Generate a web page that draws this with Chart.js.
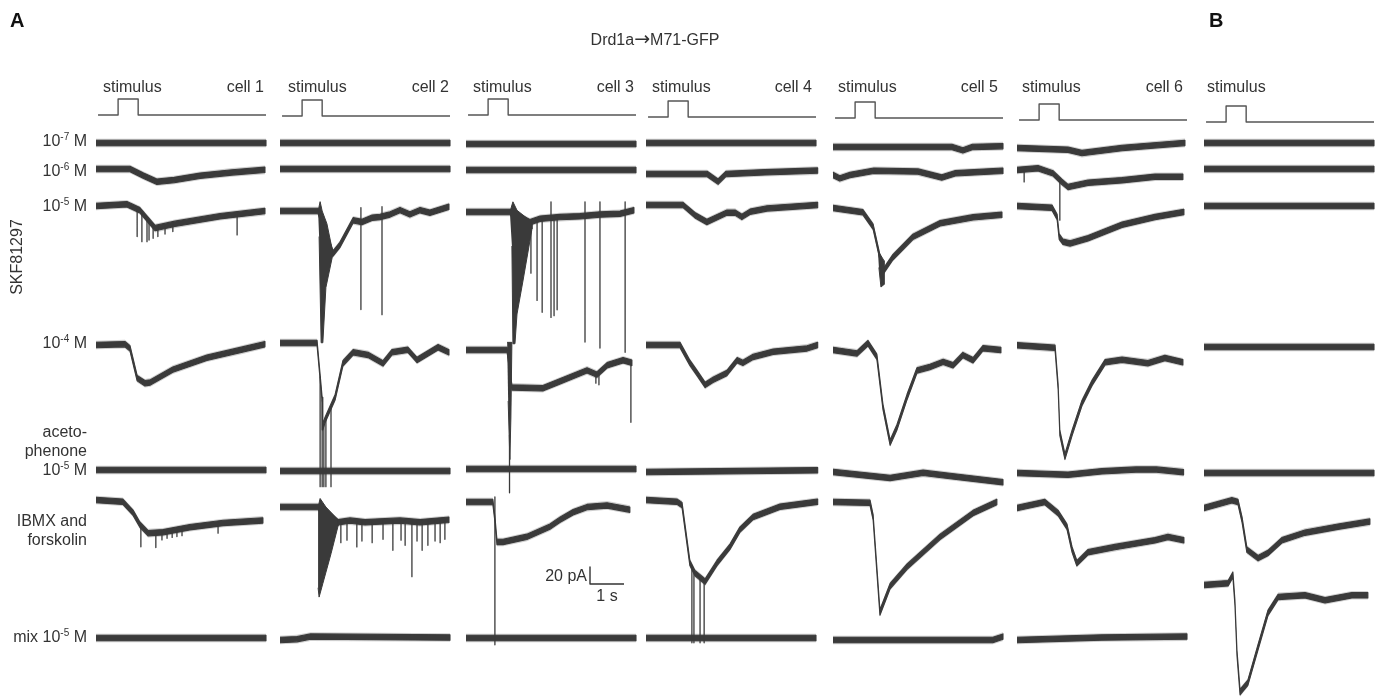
<!DOCTYPE html>
<html>
<head>
<meta charset="utf-8">
<script src="https://cdn.jsdelivr.net/npm/chart.js"></script>
<style>
  body { margin: 0; background: #fff; }
  #wrap { position: relative; width: 1384px; height: 697px; overflow: hidden; }
  #traces { position: absolute; left: 0; top: 0; }
  .lbl { position: absolute; font-family: "Liberation Sans", Arial, sans-serif; font-size: 16px;
         color: #333; white-space: nowrap; line-height: 16px; }
  .lbl sup { font-size: 10px; vertical-align: 6px; line-height: 0; }
  .arrow { font-family: "DejaVu Sans", sans-serif; font-size: 19px; line-height: 0; }
  .panel { font-weight: bold; font-size: 20px; line-height: 20px; color: #111; }
</style>
</head>
<body>
<div id="wrap"><canvas id="traces" width="1384" height="697"></canvas></div>
<script>
// Записи: время (с) от начала развертки, ток (пА) относительно начала записи
const stimulus = [[0.06, 0], [0.65, 0], [0.65, 1], [1.24, 1], [1.24, 0], [5.0, 0]];
const flat = [[0, 0], [5, 0]];

// клетка 1
const c1_r6 = [[0, 0], [1.0, 0], [1.4, -8], [1.79, -15], [2.3, -13], [3.06, -8], [4.0, -4], [4.97, -1]];
const c1_r5 = [[0, 0], [0.91, 2], [1.29, -5], [1.74, -26], [2.32, -21], [3.65, -12], [4.97, -6]];
const c1_r5_spikes = [[1.21, -3, -36], [1.35, -8, -42], [1.5, -15, -42], [1.56, -18, -40], [1.68, -23, -38],
                      [1.82, -25, -36], [2.03, -24, -33], [2.26, -21, -30], [4.15, -9, -34]];
const c1_r4 = [[0, 0], [0.85, 1], [1.0, -4], [1.21, -39], [1.44, -45], [1.6, -44], [2.26, -29], [3.26, -15], [4.24, -6], [4.97, 1]];
const c1_ibmx = [[0, 0], [0.79, -2], [1.09, -15], [1.29, -29], [1.53, -39], [1.97, -38], [2.76, -32], [3.74, -27], [4.91, -24]];
const c1_ibmx_spikes = [[1.32, -30, -55], [1.76, -39, -56], [1.94, -38, -47], [2.09, -37, -45], [2.24, -35, -44],
                        [2.38, -34, -43], [2.53, -33, -42], [3.59, -28, -39]];

// клетка 2
const c2_r5 = [[0, 0], [1.12, 0], [1.56, -50], [1.76, -40], [2.15, -11], [2.41, -13], [2.71, -8], [2.94, -7],
               [3.24, -4], [3.53, 1], [3.82, -4], [4.12, 1], [4.41, -2], [4.97, 5]];
const c2_r5_burst = [[1.12, 0], [1.18, 11], [1.24, 0], [1.38, -15], [1.56, -50], [1.35, -90], [1.26, -155], [1.21, -155], [1.15, -30]];
const c2_r5_spikes = [[2.38, 4, -116], [3.0, 5, -122]];
const c2_r4 = [[0, 0], [1.09, 0], [1.18, -40], [1.24, -67], [1.26, -99], [1.32, -91], [1.62, -64], [1.85, -24], [2.15, -11],
               [2.59, -14], [3.03, -24], [3.29, -11], [3.76, -8], [4.03, -20], [4.65, -5], [4.97, -11]];
const c2_r4_spikes = [[1.18, -40, -169], [1.24, -67, -169], [1.29, -95, -169], [1.35, -88, -169], [1.5, -75, -169]];
const c2_ibmx = [[0, 0], [1.12, 0], [1.71, -18], [2.06, -16], [2.5, -18], [2.94, -17], [3.53, -16], [4.12, -18], [4.97, -15]];
const c2_ibmx_burst = [[1.12, 0], [1.18, 10], [1.35, 0], [1.71, -15], [1.71, -22], [1.5, -55], [1.26, -90], [1.15, -106], [1.12, -95]];
const c2_ibmx_spikes = [[1.79, -18, -42], [1.97, -17, -39], [2.26, -17, -47], [2.41, -17, -40], [2.71, -17, -42], [3.03, -17, -38],
                        [3.32, -16, -51], [3.56, -16, -39], [3.68, -17, -45], [3.88, -17, -82], [4.03, -18, -40], [4.18, -17, -51],
                        [4.35, -17, -45], [4.56, -16, -40], [4.71, -16, -42], [4.85, -15, -38]];
const c2_mix = [[0, 0], [0.5, 1], [0.9, 4], [5, 3]];

// клетка 3
const c3_r5 = [[0, 0], [1.29, 0], [1.88, -12], [2.18, -8], [2.76, -6], [3.35, -5], [3.94, -3], [4.53, -2], [4.94, 2]];
const c3_r5_burst = [[1.29, 0], [1.38, 12], [1.5, 2], [1.94, -12], [1.94, -20], [1.68, -80], [1.5, -120], [1.44, -155], [1.38, -155], [1.35, -40]];
const c3_r5_spikes = [[1.91, -10, -72], [2.09, -9, -104], [2.24, -8, -118], [2.5, 12, -124], [2.59, -6, -122], [2.68, -6, -115],
                      [3.5, 12, -153], [3.94, 12, -160], [4.68, 12, -165]];
const c3_r4 = [[0, 0], [1.21, 0], [1.35, -44], [2.26, -45], [2.7, -38], [3.56, -24], [3.85, -29], [4.15, -18], [4.62, -12], [4.88, -15]];
const c3_r4_burst = [[1.21, 9], [1.35, 9], [1.32, -80], [1.29, -129], [1.24, -60]];
const c3_r4_spikes = [[1.28, -100, -168], [3.82, -28, -39], [3.91, -28, -41], [4.85, -15, -85]];
const c3_ibmx = [[0, 0], [0.79, 0], [0.85, -20], [0.91, -47], [1.09, -47], [1.79, -41], [2.47, -29], [2.76, -21],
                 [3.15, -12], [3.56, -6], [4.15, -4], [4.82, -9]];
const c3_ibmx_spikes = [[0.85, 6, -168]];

// клетка 4
const c4_r6 = [[0, 0], [1.8, 0], [2.12, -9], [2.35, 0], [3.5, 2], [5.05, 4]];
const c4_r5 = [[0, 0], [1.09, 0], [1.44, -12], [1.79, -20], [2.38, -9], [2.62, -9], [2.82, -14], [3.06, -8], [3.56, -4], [5.05, 0]];
const c4_r4 = [[0, 0], [1.0, 0], [1.29, -21], [1.5, -33], [1.74, -47], [1.97, -41], [2.38, -33], [2.68, -18], [2.85, -21],
               [3.15, -14], [3.74, -8], [4.74, -4], [5.05, 0]];
const c4_aceto = [[0, 0], [5.05, 2]];
const c4_ibmx = [[0, 0], [0.91, -2], [1.06, -6], [1.29, -74], [1.44, -86], [1.74, -96], [2.09, -74], [2.47, -55], [2.76, -35],
                 [3.15, -20], [3.94, -8], [5.05, -2]];
const c4_ibmx_spikes = [[1.35, -78, -168], [1.41, -84, -168], [1.59, -92, -168], [1.71, -95, -168]];

// клетка 5
const c5_r7 = [[0, 0], [3.5, 0], [3.82, -4], [4.1, 0], [5, 1]];
const c5_r6 = [[0, 0], [0.2, -4], [0.5, 0], [1.2, 5], [2.5, 4], [3.2, -3], [3.6, 2], [5, 5]];
const c5_r5 = [[0, 0], [0.88, -5], [1.18, -22], [1.38, -58], [1.47, -75], [1.76, -58], [2.35, -34], [3.15, -18], [4.12, -11], [4.97, -8]];
const c5_r5_burst = [[1.32, -50], [1.5, -62], [1.5, -90], [1.41, -93], [1.35, -70]];
const c5_r4 = [[0, 0], [0.71, -4], [1.03, 8], [1.29, -8], [1.47, -67], [1.68, -109], [1.88, -91], [2.18, -55], [2.47, -24],
               [2.85, -20], [3.24, -14], [3.53, -18], [3.82, -6], [4.12, -12], [4.41, 2], [4.94, 0]];
const c5_aceto = [[0, 0], [1.68, -7], [2.65, -1], [3.5, -5], [5, -12]];
const c5_ibmx = [[0, 0], [1.09, -1], [1.18, -18], [1.38, -130], [1.68, -99], [2.18, -76], [3.15, -41], [4.12, -13], [4.82, 0]];
const c5_mix = [[0, 0], [4.7, 0], [5, 4]];

// клетка 6
const c6_r7 = [[0, 0], [1.5, -2], [1.91, -6], [3.09, 0], [4.94, 6]];
const c6_r6 = [[0, 0], [0.62, 2], [1.06, -4], [1.32, -14], [1.5, -20], [2.09, -15], [3.09, -12], [4.06, -8], [4.88, -8]];
const c6_r6_spikes = [[0.21, 0, -14], [1.26, -9, -59]];
const c6_r5 = [[0, 0], [1.03, -2], [1.18, -13], [1.24, -36], [1.35, -42], [1.56, -44], [2.09, -38], [3.09, -22], [4.06, -13], [4.91, -7]];
const c6_r4 = [[0, 2], [1.12, -1], [1.21, -47], [1.26, -101], [1.41, -129], [1.62, -101], [1.91, -66], [2.21, -42], [2.59, -18],
               [3.09, -15], [3.85, -19], [4.35, -13], [4.88, -18]];
const c6_aceto = [[0, 0], [1.5, -2], [2.5, 2], [3.5, 4], [4.1, 4], [4.9, 1]];
const c6_ibmx = [[0, 0], [0.82, 7], [1.21, -6], [1.47, -22], [1.62, -49], [1.76, -65], [2.09, -52], [2.88, -46], [4.06, -38], [4.44, -34], [4.91, -38]];
const c6_mix = [[0, 0], [2.5, 3], [5, 4]];

// панель B
const b_ibmx = [[0, 0], [0.82, 9], [1.0, 7], [1.12, -14], [1.26, -49], [1.59, -59], [1.88, -53], [2.29, -38], [2.97, -29], [3.94, -22], [4.88, -16]];
const b_last = [[0, 0], [0.71, 2], [0.85, 12], [0.91, -21], [0.97, -80], [1.06, -126], [1.29, -115], [1.59, -73], [1.88, -33],
                [2.18, -14], [2.97, -12], [3.56, -18], [4.35, -12], [4.82, -12]];

// подписи
const cellNames = ["cell 1", "cell 2", "cell 3", "cell 4", "cell 5", "cell 6", ""];
const concExponents = ["-7", "-6", "-5", "-4"];
const scaleBar = { pA: 20, s: 1 };

// Раскладка (пиксели)
const W = 1384, H = 697;
const PX_PER_S = 34;     // 1 s
const PX_PER_PA = 0.85;  // 20 pA = 17 px
const colX = [96, 280, 466, 646, 833, 1017, 1204];
const rowY = [
    [143, 169, 206, 345, 470, 500, 638],
    [143, 169, 211, 343, 471, 507, 640],
    [144, 170, 212, 350, 469, 502, 638],
    [143, 174, 205, 345, 472, 500, 638],
    [147, 175, 208, 350, 472, 502, 640],
    [148, 170, 206, 347, 473, 508, 640],
    [143, 169, 206, 347, 473, 508, 585],
];
const stimY = [115, 116, 115, 117, 118, 120, 122];
const STIM_PX = 16;
const TRACE = "#3a3a3a";

const cellTraces = [
    [flat, c1_r6, c1_r5, c1_r4, flat, c1_ibmx, flat],
    [flat, flat, c2_r5, c2_r4, flat, c2_ibmx, c2_mix],
    [flat, flat, c3_r5, c3_r4, flat, c3_ibmx, flat],
    [flat, c4_r6, c4_r5, c4_r4, c4_aceto, c4_ibmx, flat],
    [c5_r7, c5_r6, c5_r5, c5_r4, c5_aceto, c5_ibmx, c5_mix],
    [c6_r7, c6_r6, c6_r5, c6_r4, c6_aceto, c6_ibmx, c6_mix],
    [flat, flat, flat, flat, flat, b_ibmx, b_last],
];
const bursts = [
    [1, 2, c2_r5_burst], [1, 5, c2_ibmx_burst], [2, 2, c3_r5_burst], [2, 3, c3_r4_burst], [4, 2, c5_r5_burst],
];
const spikes = [
    [0, 2, c1_r5_spikes], [0, 5, c1_ibmx_spikes], [1, 2, c2_r5_spikes], [1, 3, c2_r4_spikes], [1, 5, c2_ibmx_spikes],
    [2, 2, c3_r5_spikes], [2, 3, c3_r4_spikes], [2, 5, c3_ibmx_spikes], [3, 5, c4_ibmx_spikes], [5, 1, c6_r6_spikes],
];

// перевод в координаты шкал (с, пА)
const X = (col, t) => colX[col] / PX_PER_S + t;
const Y = (col, row, v) => -rowY[col][row] / PX_PER_PA + v;

function band(col, row, arr, halfPx) {
    const h = halfPx / PX_PER_PA;
    const up = arr.map((p) => ({ x: X(col, p[0]), y: Y(col, row, p[1] + h) }));
    const lo = arr.slice().reverse().map((p) => ({ x: X(col, p[0]), y: Y(col, row, p[1] - h) }));
    return up.concat(lo);
}

const datasets = [];
cellTraces.forEach((traces, col) => {
    traces.forEach((arr, row) => {
        datasets.push({ data: band(col, row, arr, 2.7), fill: "shape", backgroundColor: TRACE,
                        borderColor: TRACE, borderWidth: 1.1 });
        datasets.push({ data: band(col, row, arr, 4.3), fill: "shape", backgroundColor: "rgba(80,80,80,0.28)",
                        borderWidth: 0 });
    });
    // стимул
    const sy = -stimY[col] / PX_PER_PA;
    datasets.push({
        data: stimulus.map((p) => ({ x: X(col, p[0]), y: sy + p[1] * STIM_PX / PX_PER_PA })),
        borderColor: "#555", borderWidth: 1.4, fill: false,
    });
});
bursts.forEach(([col, row, arr]) => {
    datasets.unshift({ data: arr.map((p) => ({ x: X(col, p[0]), y: Y(col, row, p[1]) })), fill: "shape",
                       backgroundColor: TRACE, borderColor: TRACE, borderWidth: 1 });
});
spikes.forEach(([col, row, arr]) => {
    const pts = [];
    arr.forEach((s) => {
        pts.push({ x: X(col, s[0]), y: Y(col, row, s[1]) });
        pts.push({ x: X(col, s[0]), y: Y(col, row, s[2]) });
        pts.push({ x: X(col, s[0]), y: null });
    });
    datasets.unshift({ data: pts, borderColor: TRACE, borderWidth: 1.3, fill: false, spanGaps: false });
});

// масштабная линейка
const sbX = 590 / PX_PER_S, sbY = -584 / PX_PER_PA;
datasets.unshift({
    data: [{ x: sbX, y: sbY + scaleBar.pA }, { x: sbX, y: sbY }, { x: sbX + scaleBar.s, y: sbY }],
    borderColor: "#333", borderWidth: 1.4, fill: false,
});

new Chart(document.getElementById("traces"), {
    type: "line",
    data: { datasets: datasets },
    options: {
        responsive: false,
        animation: false,
        events: [],
        layout: { padding: 0 },
        elements: { point: { radius: 0 }, line: { tension: 0, borderJoinStyle: "round" } },
        plugins: { legend: { display: false }, tooltip: { enabled: false }, title: { display: false } },
        scales: {
            x: { type: "linear", display: false, min: 0, max: W / PX_PER_S },
            y: { type: "linear", display: false, min: -H / PX_PER_PA, max: 0 },
        },
    },
});

// Текст
const wrap = document.getElementById("wrap");
function addLabel(html, x, baseline, align, cls) {
    const d = document.createElement("div");
    d.className = "lbl" + (cls ? " " + cls : "");
    d.innerHTML = html;
    const lh = cls === "panel" ? 20 : 16;
    d.style.top = (baseline - lh * 0.85) + "px";
    if (align === "right") d.style.right = (W - x) + "px";
    else if (align === "center") { d.style.left = x + "px"; d.style.transform = "translateX(-50%)"; }
    else d.style.left = x + "px";
    wrap.appendChild(d);
    return d;
}
const conc = (e) => "10<sup>" + e + "</sup> M";

addLabel("A", 10, 27, "left", "panel");
addLabel("B", 1209, 27, "left", "panel");
addLabel('Drd1a<span class="arrow">→</span>M71-GFP', 655, 46, "center");

const stimLabelX = [103, 288, 473, 652, 838, 1022, 1207];
const cellLabelRight = [264, 449, 634, 812, 998, 1183];
stimLabelX.forEach((x, i) => {
    addLabel("stimulus", x, 93, "left");
    if (cellNames[i]) addLabel(cellNames[i], cellLabelRight[i], 93, "right");
});

addLabel(conc(concExponents[0]), 87, 147, "right");
addLabel(conc(concExponents[1]), 87, 177, "right");
addLabel(conc(concExponents[2]), 87, 212, "right");
addLabel(conc(concExponents[3]), 87, 349, "right");
addLabel("aceto-", 87, 438, "right");
addLabel("phenone", 87, 457, "right");
addLabel(conc("-5"), 87, 476, "right");
addLabel("IBMX and", 87, 527, "right");
addLabel("forskolin", 87, 546, "right");
addLabel("mix " + conc("-5"), 87, 643, "right");

const skf = addLabel("SKF81297", 17, 262, "center");
skf.style.transform = "translate(-50%, -50%) rotate(-90deg)";
skf.style.top = "257px";

addLabel(scaleBar.pA + " pA", 587, 582, "right");
addLabel(scaleBar.s + " s", 607, 602, "center");
</script>
</body>
</html>
